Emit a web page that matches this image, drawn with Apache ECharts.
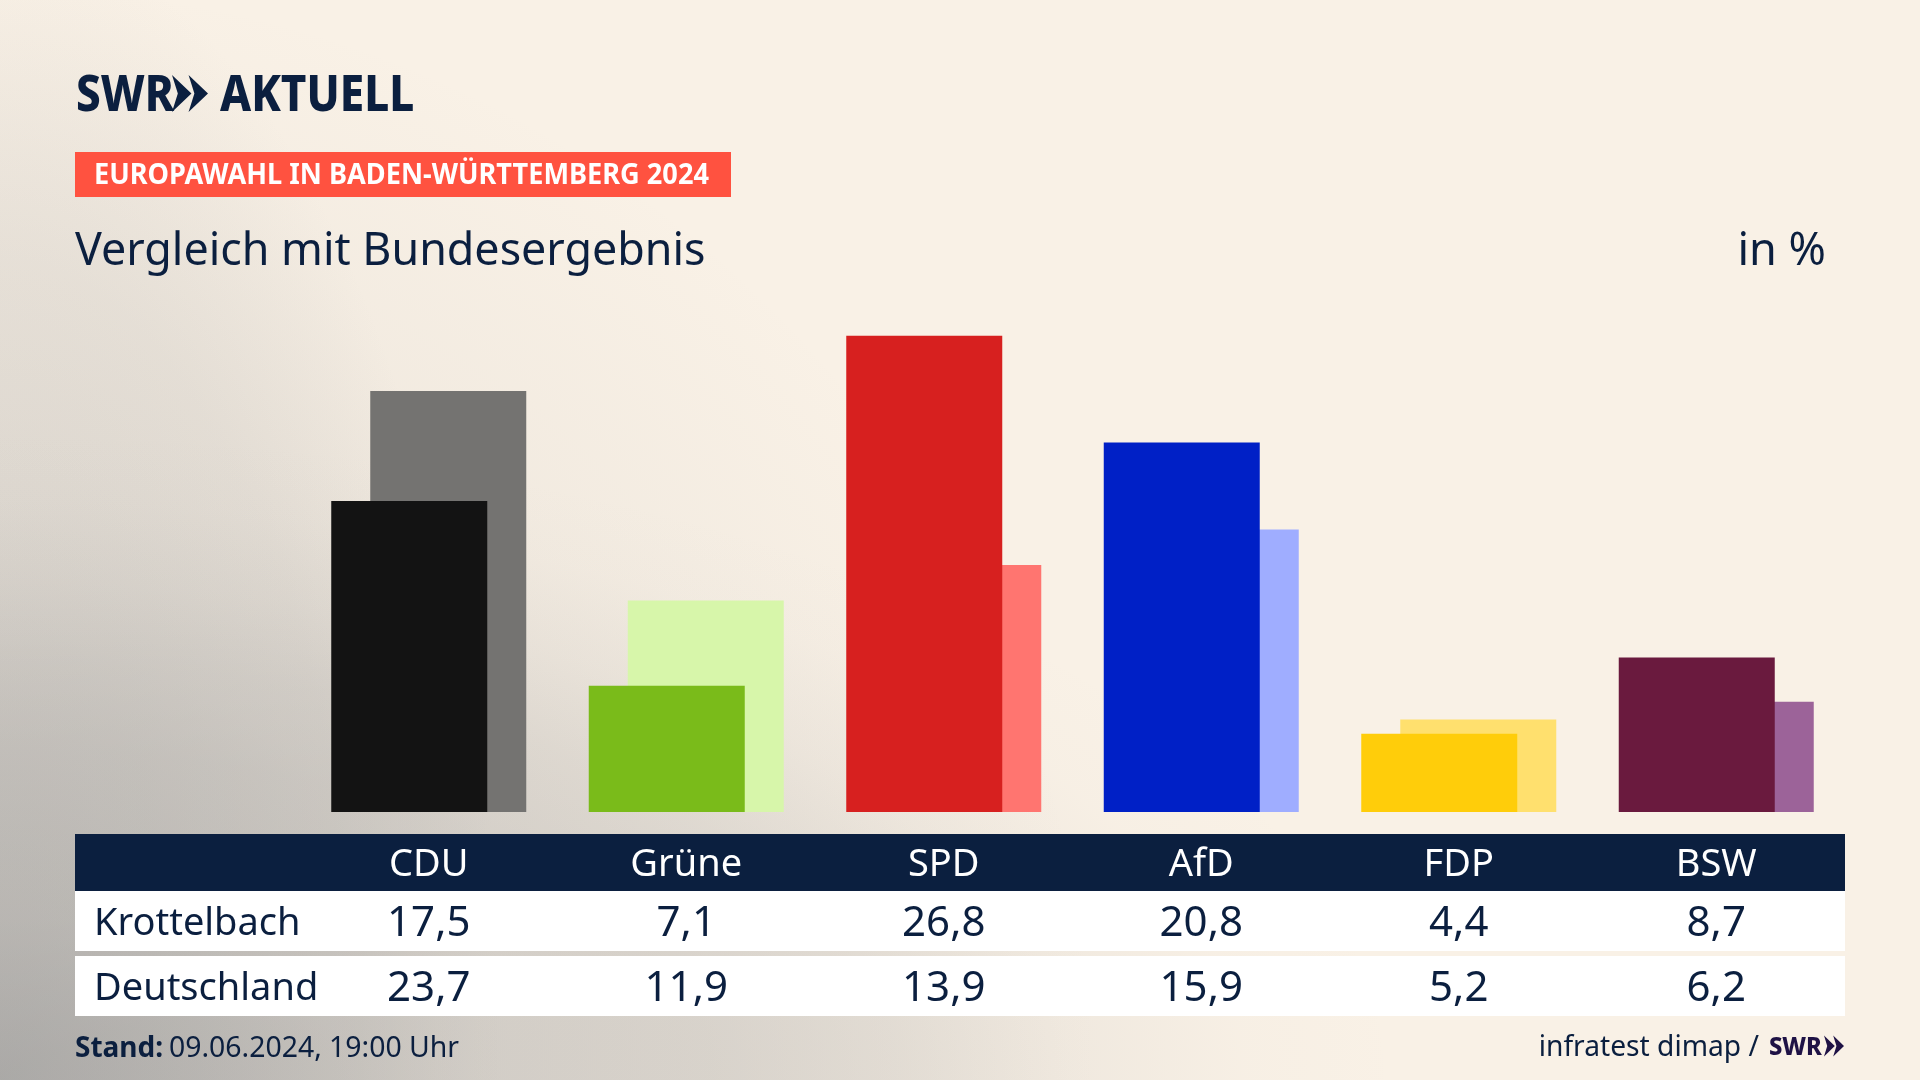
<!DOCTYPE html>
<html>
<head>
<meta charset="utf-8">
<title>Vergleich mit Bundesergebnis</title>
<script src="https://cdn.jsdelivr.net/npm/echarts@6/dist/echarts.min.js"></script>
<style>
html, body { margin: 0; padding: 0; }
body {
    background-color: #f9f1e6;
    background-image:
        radial-gradient(ellipse 1400px 650px at 0 100%, rgba(150,150,150,.5) 0, rgba(150,150,150,.3) 25%, rgba(150,150,150,.27) 51%, rgba(150,150,150,.2) 64%, rgba(150,150,150,.09) 76.5%, rgba(150,150,150,.02) 89%, rgba(150,150,150,0) 100%),
        radial-gradient(ellipse 500px 1150px at 0 100%, rgba(150,150,150,.3) 0, rgba(150,150,150,.25) 22%, rgba(150,150,150,.14) 71%, rgba(150,150,150,0) 100%),
        radial-gradient(circle 1100px at 0 100%, rgba(150,150,150,.4) 0, rgba(150,150,150,.15) 40%, rgba(150,150,150,.07) 70%, rgba(150,150,150,0) 100%);
    background-repeat: no-repeat;
    width: 1920px; height: 1080px;
}
#maindiv { width: 1920px; height: 1080px; }
</style>
</head>
<body>
<div id="maindiv"></div>
<script>
var parties = ['CDU', 'Grüne', 'SPD', 'AfD', 'FDP', 'BSW'];
var krottelbach = [17.5, 7.1, 26.8, 20.8, 4.4, 8.7];
var deutschland = [23.7, 11.9, 13.9, 15.9, 5.2, 6.2];
var colorsFront = ['#131313', '#7abb1a', '#d7201f', '#0020c6', '#ffcd0a', '#6a1a3e'];
var colorsBack = ['#747371', '#d7f6aa', '#ff7570', '#9fadff', '#ffe06e', '#9c6399'];

var navy = '#0b1f3f';
var fontName = '"Noto Sans", sans-serif';

function fmt(v) {
    return v.toFixed(1).replace('.', ',');
}

function colored(values, colors) {
    return values.map(function (v, i) {
        return { value: v, itemStyle: { color: colors[i] } };
    });
}

function text(x, y, str, size, color, opt) {
    opt = opt || {};
    return {
        type: 'text', x: x, y: y, z: 10,
        scaleX: opt.scaleX || 1,
        style: {
            text: str, fill: color,
            font: (opt.weight || 'normal') + ' ' + size + 'px ' + fontName,
            textAlign: opt.align || 'left',
            textVerticalAlign: 'middle'
        }
    };
}

function rect(x, y, w, h, color) {
    return { type: 'rect', z: -1, shape: { x: x, y: y, width: w, height: h }, style: { fill: color } };
}

function chevrons(x, y, w, h, color) {
    // the two arrows of the SWR logo
    var a = w * 0.54, out = [];
    [0, w - a].forEach(function (dx) {
        out.push({
            type: 'polygon', z: 10,
            shape: { points: [
                [x + dx, y], [x + dx + a, y + h / 2], [x + dx, y + h], [x + dx + a * 0.3, y + h / 2]
            ] },
            style: { fill: color }
        });
    });
    return out;
}

var chart = echarts.init(document.getElementById('maindiv'));
chart.setOption({
    animation: false,
    backgroundColor: 'transparent',
    grid: { left: 300, width: 1545, top: 279, height: 533 },
    xAxis: {
        type: 'category',
        data: parties,
        axisLine: { show: false },
        axisTick: { show: false },
        axisLabel: { color: '#ffffff', fontFamily: fontName, fontSize: 38, margin: 34 }
    },
    yAxis: { type: 'value', min: 0, max: 30, show: false },
    series: [
        {
            name: 'Krottelbach', type: 'bar', z: 3,
            barWidth: 156, barGap: '-75%',
            data: colored(krottelbach, colorsFront)
        },
        {
            name: 'Deutschland', type: 'bar', z: 2,
            barWidth: 156,
            data: colored(deutschland, colorsBack)
        }
    ]
});

var items = [
    rect(75, 152, 656, 45, '#ff5240'),
    rect(75, 834, 1770, 57, navy),
    rect(75, 891, 1770, 60, '#ffffff'),
    rect(75, 956, 1770, 60, '#ffffff'),
    text(76, 97, 'SWR', 50, navy, { weight: '800', scaleX: 0.88 }),
    text(220, 97, 'AKTUELL', 50, navy, { weight: '800', scaleX: 0.88 }),
    text(94, 176.5, 'EUROPAWAHL IN BADEN-WÜRTTEMBERG 2024', 28, '#ffffff', { weight: 'bold', scaleX: 0.97 }),
    text(75, 252, 'Vergleich mit Bundesergebnis', 44.8, navy),
    text(1826, 252, 'in %', 45, navy, { align: 'right' }),
    text(94, 924, 'Krottelbach', 38, navy),
    text(94, 989, 'Deutschland', 38, navy),
    text(75, 1049, 'Stand:', 28, navy, { weight: 'bold' }),
    text(169, 1049, '09.06.2024, 19:00 Uhr', 28.4, navy),
    text(1759, 1048, 'infratest dimap /', 28.2, navy, { align: 'right' }),
    text(1769, 1048, 'SWR', 25, '#1f1245', { weight: '800', scaleX: 0.95 })
];
items = items.concat(chevrons(172, 75, 36, 37, navy));
items = items.concat(chevrons(1824, 1035.5, 20, 21, '#1f1245'));

parties.forEach(function (p, i) {
    var x = chart.convertToPixel({ xAxisIndex: 0 }, p);
    items.push(text(x, 924, fmt(krottelbach[i]), 42, navy, { align: 'center' }));
    items.push(text(x, 989, fmt(deutschland[i]), 42, navy, { align: 'center' }));
});

chart.setOption({ graphic: { elements: items } });
</script>
</body>
</html>
